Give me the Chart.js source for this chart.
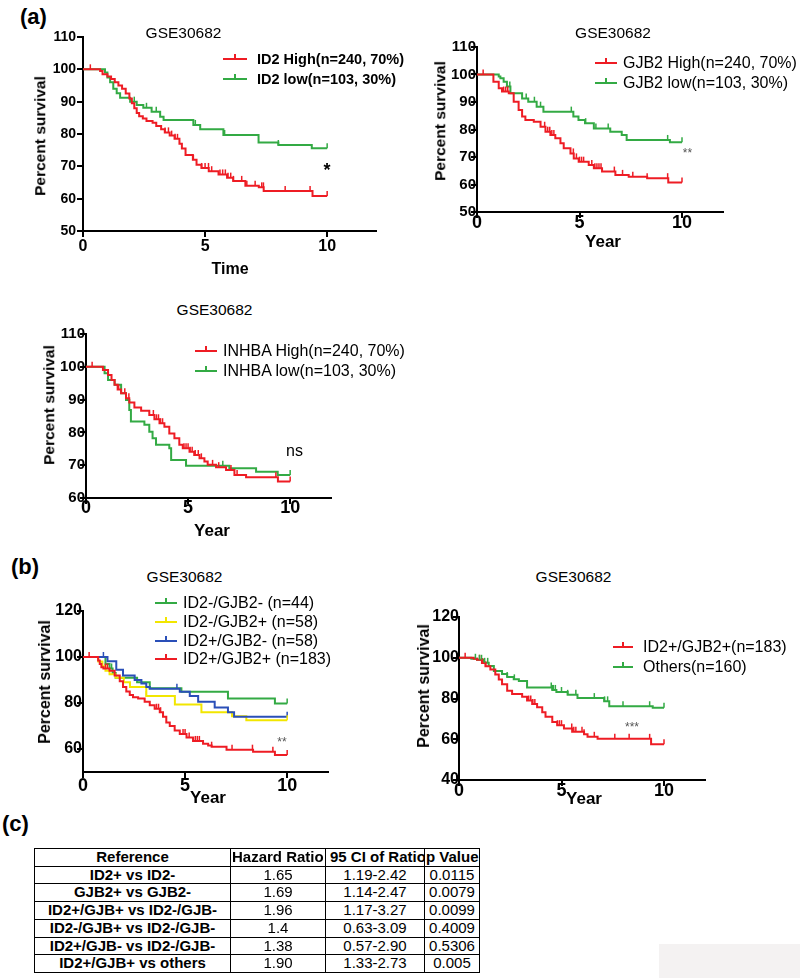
<!DOCTYPE html>
<html>
<head>
<meta charset="utf-8">
<script src="https://cdn.jsdelivr.net/npm/chart.js@4.4.0/dist/chart.umd.min.js"></script>
<style>
  body { margin: 0; background: #fff; }
  #page { position: relative; width: 800px; height: 978px; overflow: hidden; background: #fff;
          font-family: "Liberation Sans", Arial, sans-serif; color: #000; }
  canvas { position: absolute; }
  .t { position: absolute; white-space: nowrap; line-height: 1; }
  .c { transform: translate(-50%, -50%); }
  .v { transform: translate(-50%, -50%) rotate(-90deg); }
  .b { font-weight: bold; }
  .ln { position: absolute; height: 2px; }
  #tbl { position: absolute; left: 34px; top: 848px; width: 445px; border-collapse: collapse;
         table-layout: fixed; font-size: 15px; }
  #tbl td { border: 1px solid #000; padding: 0; height: 16.7px; line-height: 16.7px;
            text-align: center; white-space: nowrap; overflow: hidden; }
  #tbl tr.head td { font-weight: bold; }
  #tbl td:first-child { font-weight: bold; }
  #gray { position: absolute; left: 659px; top: 944px; width: 141px; height: 34px; background: #f4f2f2; }
</style>
</head>
<body>
<div id="page"></div>
<script>
// ---- data ----
const xTicks = [0, 5, 10];

// (a) ID2
const id2HighT = [0.7, 0.8, 1.0, 1.15, 1.3, 1.45, 1.6, 1.75, 1.9, 2.0, 2.1, 2.2, 2.3, 2.45, 2.6, 2.85, 3.0, 3.2, 3.35, 3.55, 3.75, 3.95, 4.05, 4.2, 4.5, 4.65, 4.85, 5.15, 5.55, 5.9, 6.15, 6.65, 7.2, 7.4, 9.4];
const id2HighS = [99.5, 98.5, 97.8, 97, 96, 95, 94, 92.5, 91, 89.5, 88, 86.5, 85.5, 84.8, 84, 83.5, 82.5, 81.5, 80.5, 79.5, 78.5, 77, 75.5, 73.5, 72, 70.5, 69.5, 68.5, 67.5, 66.5, 65.5, 64, 63.5, 62.4, 60.8];
const id2HighC = [0.3, 3.36, 3.5, 3.63, 3.77, 3.87, 4.52, 4.86, 5.0, 5.14, 5.27, 5.61, 5.72, 5.83, 5.94, 6.05, 6.16, 6.5, 6.71, 7.05, 7.32, 7.39, 8.28, 9.3, 10];
const id2LowT = [0.9, 1.0, 1.11, 1.24, 1.38, 1.52, 1.93, 2.2, 2.47, 2.81, 3.16, 3.3, 4.52, 4.8, 5.75, 7.19, 8.0, 9.37];
const id2LowS = [99, 97.5, 96, 94, 92.6, 91.2, 90, 89, 88.1, 86.9, 85.3, 84.3, 82.8, 81.5, 79.7, 77.4, 76.6, 75.6];
const id2LowC = [2.1, 2.6, 3.0, 4.6, 5.8, 8.0, 10];
const yTicks1 = [50, 60, 70, 80, 90, 100, 110];

// (a) GJB2
const gjb2HighT = [0.8, 1.06, 1.22, 1.55, 1.79, 2.03, 2.2, 2.36, 2.77, 3.1, 3.34, 3.58, 3.82, 4.07, 4.23, 4.56, 4.72, 4.96, 5.45, 5.7, 6.1, 6.75, 7.4, 8.3, 9.33];
const gjb2HighS = [97.4, 95, 93.8, 93.2, 90.1, 87.1, 84.7, 83.5, 82.8, 81, 79.2, 78, 76.8, 75, 73.2, 71.3, 69.5, 68.3, 67.1, 65.9, 64.7, 63.5, 62.8, 62.3, 60.7];
const gjb2HighC = [0.3, 1.3, 1.4, 1.5, 3.3, 3.45, 3.55, 3.65, 3.75, 4.7, 4.85, 5.0, 5.1, 5.2, 5.6, 5.75, 5.85, 5.95, 6.05, 6.7, 7.1, 7.6, 8.3, 9.3, 10];
const gjb2LowT = [1.06, 1.14, 1.3, 1.46, 1.63, 2.2, 2.5, 2.91, 3.24, 4.7, 4.95, 5.27, 5.7, 6.5, 7.06, 7.3, 9.41];
const gjb2LowS = [99.3, 98.6, 97.4, 95.6, 93.2, 91.3, 90.1, 88.3, 86.5, 84.7, 83.5, 82.3, 80.4, 79.2, 78, 76.2, 75.4];
const gjb2LowC = [1.6, 2.4, 2.8, 3.1, 4.6, 5.3, 5.8, 6.4, 9.3, 10];
const yTicks2 = [50, 60, 70, 80, 90, 100, 110];

// (a) INHBA
const inhbaHighT = [0.83, 1.08, 1.25, 1.4, 1.55, 1.72, 1.96, 2.12, 2.37, 2.7, 3.1, 3.35, 3.6, 3.84, 4.08, 4.33, 4.57, 4.74, 5.07, 5.3, 5.56, 5.8, 5.96, 6.37, 6.86, 7.27, 7.84, 9.4];
const inhbaHighS = [99, 97.5, 96, 94.5, 93.1, 91.9, 90.4, 89.1, 87.6, 86.6, 85.3, 84, 82.8, 81.7, 79.7, 78.2, 76.2, 75.2, 74.1, 73.1, 72.1, 71.1, 70.1, 69.4, 68.5, 67, 66.3, 65];
const inhbaHighC = [0.3, 1.6, 1.9, 2.1, 3.3, 3.45, 3.55, 3.65, 3.75, 4.8, 4.9, 5.0, 5.1, 5.2, 5.35, 5.5, 5.65, 6.2, 6.5, 7.1, 7.4, 9.3, 10];
const inhbaLowT = [0.91, 1.08, 1.4, 1.72, 1.96, 2.12, 2.2, 2.86, 3.1, 3.26, 3.43, 4.08, 4.17, 4.9, 7.02, 8.33, 9.39];
const inhbaLowS = [98, 96, 94.5, 91.9, 89.9, 86.8, 83.3, 82.3, 80.2, 78.2, 76.2, 75.2, 71.6, 69.8, 69.1, 68, 67];
const inhbaLowC = [4.9, 6.7, 10];
const yTicks3 = [60, 70, 80, 90, 100, 110];

// (b) four groups
const nnT = [1.1, 1.3, 1.45, 1.6, 2.65, 3.27, 4.82, 7.1, 9.4];
const nnS = [97, 95, 93, 91, 89, 86.4, 84.9, 82, 79.8];
const nnC = [1.4, 10];
const npT = [0.75, 0.95, 1.1, 1.3, 1.6, 2.0, 2.3, 3.1, 4.5, 5.8, 7.3, 8.0];
const npS = [98, 96, 94, 92.5, 91, 89, 87, 83, 79.4, 76, 74.2, 72.5];
const npC = [3.1, 10];
const pnT = [1.2, 1.63, 1.96, 2.53, 2.86, 3.1, 3.27, 4.74, 5.23, 5.64, 6.45, 7.1, 7.4];
const pnS = [98.2, 94.5, 92, 90, 88.5, 87, 86.2, 84.9, 83, 80.5, 78, 76, 74];
const pnC = [1.0, 4.6, 10];
const ppT = [0.74, 0.82, 0.9, 1.0, 1.3, 1.55, 1.8, 1.96, 2.12, 2.29, 2.45, 2.7, 3.02, 3.27, 3.51, 3.76, 3.92, 4.08, 4.25, 4.49, 4.74, 5.07, 5.39, 5.88, 6.13, 6.3, 7.03, 8.33, 9.4];
const ppS = [98.5, 97, 95.5, 95, 94, 92, 89.5, 87, 85, 83.5, 82.5, 82, 80.5, 79, 77.5, 76, 74, 71.5, 70, 68, 66.5, 65, 63.5, 62.3, 61.5, 61, 59.7, 58.8, 57.4];
const ppC = [0.3, 1.1, 1.2, 3.6, 3.7, 3.8, 4.9, 5.0, 5.2, 5.5, 5.6, 5.7, 6.3, 7.3, 8.3, 9.3, 10];
const yTicks4 = [60, 80, 100, 120];

// (b) ID2+/GJB2+ vs others
const dpT = [0.72, 0.88, 1.12, 1.29, 1.53, 1.77, 1.94, 2.1, 2.35, 2.59, 3.08, 3.32, 3.57, 3.81, 4.06, 4.22, 4.55, 4.79, 5.12, 5.52, 6.1, 6.27, 6.76, 9.37];
const dpS = [99.5, 99, 97.4, 95.8, 94.2, 91.8, 89.3, 87, 83.8, 82.2, 80.9, 79, 77.3, 75.7, 73.3, 71, 68.5, 66.9, 65.3, 63.7, 62.5, 61.2, 60.2, 57.5];
const dpC = [0.3, 1.0, 1.15, 1.3, 3.4, 3.5, 3.6, 3.7, 4.8, 4.9, 5.0, 5.5, 5.6, 5.7, 6.0, 6.1, 6.6, 7.6, 8.3, 9.3, 10];
const othT = [0.6, 0.88, 1.2, 1.45, 1.7, 2.1, 2.35, 2.67, 2.92, 3.32, 4.55, 4.75, 5.3, 5.78, 7.08, 7.33, 9.45];
const othS = [99.5, 99, 97.5, 96, 93.5, 92, 90.6, 89.4, 88.6, 85.4, 84.2, 83.2, 81.8, 80.2, 78.6, 76.2, 75.4];
const othC = [0.8, 1.0, 1.1, 1.25, 1.4, 2.35, 2.7, 4.5, 4.55, 4.6, 4.7, 5.0, 5.3, 5.7, 6.6, 7.1, 7.25, 8.0, 9.3, 10];
const yTicks5 = [40, 60, 80, 100, 120];

// (c) table
const tableHead = ["Reference", "Hazard Ratio", "95 CI of Ratio", "p Value"];
const tableRef = ["ID2+ vs ID2-", "GJB2+ vs GJB2-", "ID2+/GJB+ vs ID2-/GJB-", "ID2-/GJB+ vs ID2-/GJB-", "ID2+/GJB- vs ID2-/GJB-", "ID2+/GJB+ vs others"];
const tableHR = ["1.65", "1.69", "1.96", "1.4", "1.38", "1.90"];
const tableCI = ["1.19-2.42", "1.14-2.47", "1.17-3.27", "0.63-3.09", "0.57-2.90", "1.33-2.73"];
const tableP = ["0.0115", "0.0079", "0.0099", "0.4009", "0.5306", "0.005"];

// ---- drawing ----
const FONT = '"Liberation Sans", Arial, sans-serif';
const RED = "#ee1c24", GREEN = "#33aa44", BLUE = "#2a4fb8", YELLOW = "#f2e600";
const page = document.getElementById("page");

function curve(T, S) {
  const pts = [{ x: 0, y: 100 }];
  T.forEach((t, i) => pts.push({ x: t, y: S[i] }));
  pts.push({ x: 10, y: S[S.length - 1] });
  return pts;
}
function survAt(pts, t) {
  let v = pts[0].y;
  for (const p of pts) { if (p.x <= t) v = p.y; else break; }
  return v;
}

// small upward ticks for censored cases
const censorPlugin = {
  id: "censor",
  afterDatasetsDraw(chart) {
    const { ctx } = chart;
    const x = chart.scales.x, y = chart.scales.y;
    ctx.save();
    chart.data.datasets.forEach(ds => {
      ctx.strokeStyle = ds.borderColor;
      ctx.lineWidth = 1.5;
      (ds.censor || []).forEach(t => {
        const px = x.getPixelForValue(t), py = y.getPixelForValue(survAt(ds.data, t));
        ctx.beginPath();
        ctx.moveTo(px, py);
        ctx.lineTo(px, py - 5);
        ctx.stroke();
      });
    });
    ctx.restore();
  }
};

function ds(T, S, C, color) {
  return { data: curve(T, S), censor: C, borderColor: color, stepped: "before",
           borderWidth: 2, pointRadius: 0, fill: false };
}

// o: yMin, yMax, yTicks, ySize, yPad, xSize, xPad
function makeChart(box, o, datasets) {
  const YW = 46, PT = 12, PR = 12, XH = 30;
  const w = YW + box.r - box.l + PR, h = PT + box.b - box.t + XH;
  const cv = document.createElement("canvas");
  cv.width = w; cv.height = h;
  cv.style.width = w + "px"; cv.style.height = h + "px";
  cv.style.left = (box.l - YW) + "px"; cv.style.top = (box.t - PT) + "px";
  page.appendChild(cv);
  const axisGrid = { drawOnChartArea: false, drawTicks: true, tickLength: 6, color: "#000", lineWidth: 2 };
  new Chart(cv, {
    type: "line",
    data: { datasets: datasets },
    options: {
      responsive: false,
      animation: false,
      devicePixelRatio: 1,
      layout: { padding: { left: 0, top: PT, right: PR, bottom: 0 } },
      plugins: { legend: { display: false }, tooltip: { enabled: false } },
      scales: {
        x: {
          type: "linear", min: 0, max: 12,
          afterBuildTicks: s => { s.ticks = xTicks.map(v => ({ value: v })); },
          afterFit: s => { s.height = XH; },
          grid: axisGrid,
          border: { color: "#000", width: 2 },
          ticks: { color: "#000", font: { family: FONT, size: o.xSize, weight: "bold" },
                   padding: o.xPad, maxRotation: 0, autoSkip: false }
        },
        y: {
          type: "linear", min: o.yMin, max: o.yMax,
          afterBuildTicks: s => { s.ticks = o.yTicks.map(v => ({ value: v })); },
          afterFit: s => { s.width = YW; },
          grid: axisGrid,
          border: { color: "#000", width: 2 },
          ticks: { color: "#000", font: { family: FONT, size: o.ySize, weight: "bold" },
                   padding: o.yPad, autoSkip: false }
        }
      }
    },
    plugins: [censorPlugin]
  });
}

function text(str, x, y, size, cls, extra) {
  const d = document.createElement("div");
  d.className = "t " + (cls || "");
  d.textContent = str;
  d.style.left = x + "px"; d.style.top = y + "px";
  d.style.fontSize = size + "px";
  if (extra) Object.assign(d.style, extra);
  page.appendChild(d);
}

function legend(items, x1, x2, tx, rows, size, bold) {
  items.forEach((it, i) => {
    const ly = rows[i];
    const l = document.createElement("div");
    l.className = "ln";
    Object.assign(l.style, { left: x1 + "px", top: (ly - 1) + "px", width: (x2 - x1) + "px", background: it.color });
    page.appendChild(l);
    const tk = document.createElement("div");
    tk.className = "ln";
    Object.assign(tk.style, { left: (x1 + (x2 - x1) / 2 - 1) + "px", top: (ly - 5) + "px", width: "1.5px", height: "5px", background: it.color });
    page.appendChild(tk);
    text(it.label, tx, ly - size / 2, size, bold ? "b" : "");
  });
}

// panel letters
text("(a)", 20, 5.5, 22, "b");
text("(b)", 11, 556, 22, "b");
text("(c)", 2, 813, 22, "b");

// chart 1: ID2
makeChart({ l: 83, r: 376, t: 37, b: 231 },
  { yMin: 50, yMax: 110, yTicks: yTicks1, ySize: 14, yPad: 1, xSize: 16, xPad: 0 },
  [ds(id2HighT, id2HighS, id2HighC, RED), ds(id2LowT, id2LowS, id2LowC, GREEN)]);
text("GSE30682", 183.5, 32.5, 15.5, "c");
text("Percent survival", 39.5, 136, 15.5, "v b");
text("Time", 230, 268.5, 16, "c b");
legend([{ label: "ID2 High(n=240, 70%)", color: RED }, { label: "ID2 low(n=103, 30%)", color: GREEN }],
  223, 247, 257, [59.3, 79.3], 14.5, true);
text("*", 327, 170, 18, "c b");

// chart 2: GJB2
makeChart({ l: 477, r: 723, t: 47, b: 212 },
  { yMin: 50, yMax: 110, yTicks: yTicks2, ySize: 15, yPad: -5, xSize: 18, xPad: -6 },
  [ds(gjb2HighT, gjb2HighS, gjb2HighC, RED), ds(gjb2LowT, gjb2LowS, gjb2LowC, GREEN)]);
text("GSE30682", 613, 33, 15.5, "c");
text("Percent survival", 439.5, 121, 15.5, "v b");
text("Year", 603, 241, 17, "c b");
legend([{ label: "GJB2 High(n=240, 70%)", color: RED }, { label: "GJB2 low(n=103, 30%)", color: GREEN }],
  595, 617, 623, [63.3, 83.3], 16, false);
text("**", 687.5, 153, 12, "c", { color: "#555" });

// chart 3: INHBA
makeChart({ l: 86, r: 331, t: 334, b: 498 },
  { yMin: 60, yMax: 110, yTicks: yTicks3, ySize: 15, yPad: -5, xSize: 18, xPad: -7 },
  [ds(inhbaHighT, inhbaHighS, inhbaHighC, RED), ds(inhbaLowT, inhbaLowS, inhbaLowC, GREEN)]);
text("GSE30682", 214.5, 310, 15.5, "c");
text("Percent survival", 48.5, 405, 15.5, "v b");
text("Year", 212, 529.5, 17, "c b");
legend([{ label: "INHBA High(n=240, 70%)", color: RED }, { label: "INHBA low(n=103, 30%)", color: GREEN }],
  195, 217, 223, [350.7, 371], 16, false);
text("ns", 294.5, 450.6, 16, "c");

// chart 4: four groups
makeChart({ l: 83, r: 328, t: 611, b: 772 },
  { yMin: 50, yMax: 120, yTicks: yTicks4, ySize: 16, yPad: -5, xSize: 18, xPad: -3 },
  [ds(ppT, ppS, ppC, RED), ds(pnT, pnS, pnC, BLUE), ds(npT, npS, npC, YELLOW), ds(nnT, nnS, nnC, GREEN)]);
text("GSE30682", 184.5, 577, 15.5, "c");
text("Percent survival", 44.5, 682, 16, "v b");
text("Year", 208, 797, 17, "c b");
legend([{ label: "ID2-/GJB2- (n=44)", color: GREEN }, { label: "ID2-/GJB2+ (n=58)", color: YELLOW },
        { label: "ID2+/GJB2- (n=58)", color: BLUE }, { label: "ID2+/GJB2+ (n=183)", color: RED }],
  155, 177, 183, [602.7, 621.7, 640.7, 659.3], 16, false);
text("**", 282, 742, 12, "c", { color: "#555" });

// chart 5: ID2+/GJB2+ vs others
makeChart({ l: 459, r: 705, t: 617, b: 780 },
  { yMin: 40, yMax: 120, yTicks: yTicks5, ySize: 16, yPad: -6, xSize: 18, xPad: -6 },
  [ds(dpT, dpS, dpC, RED), ds(othT, othS, othC, GREEN)]);
text("GSE30682", 573.5, 577, 15.5, "c");
text("Percent survival", 423.5, 686, 16, "v b");
text("Year", 584, 798, 17, "c b");
legend([{ label: "ID2+/GJB2+(n=183)", color: RED }, { label: "Others(n=160)", color: GREEN }],
  613, 633, 643, [647.3, 666.7], 16, false);
text("***", 632, 727, 12, "c", { color: "#555" });

// table (c)
const tbl = document.createElement("table");
tbl.id = "tbl";
const cg = document.createElement("colgroup");
[196, 95, 99, 55].forEach(wd => { const c = document.createElement("col"); c.style.width = wd + "px"; cg.appendChild(c); });
tbl.appendChild(cg);
const tb = document.createElement("tbody");
tbl.appendChild(tb);
const addRow = (cells, head) => {
  const tr = document.createElement("tr");
  if (head) tr.className = "head";
  cells.forEach((s, i) => {
    const td = document.createElement("td");
    td.textContent = s;
    if (head && i > 0) { td.style.textAlign = "left"; td.style.paddingLeft = i === 2 ? "4px" : "1px"; }
    tr.appendChild(td);
  });
  tb.appendChild(tr);
};
addRow(tableHead, true);
tableRef.forEach((r, i) => addRow([r, tableHR[i], tableCI[i], tableP[i]], false));
page.appendChild(tbl);

const gray = document.createElement("div");
gray.id = "gray";
page.appendChild(gray);
</script>
</body>
</html>
